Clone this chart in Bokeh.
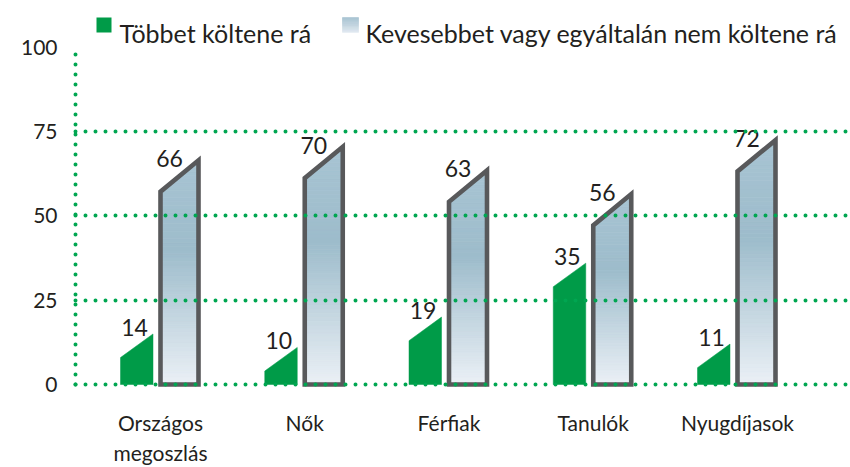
import numpy as np
from bokeh.plotting import figure
from bokeh.models import Range1d, FixedTicker
from bokeh.core.properties import value
from bokeh.embed import file_html
from bokeh.resources import INLINE

# ---------------- data ----------------
categories = ["Országos\nmegoszlás", "Nők", "Férfiak", "Tanulók", "Nyugdíjasok"]
more_spend = [14, 10, 19, 35, 11]          # Többet költene rá
less_spend = [66, 70, 63, 56, 72]          # Kevesebbet vagy egyáltalán nem költene rá
y_ticks = [0, 25, 50, 75, 100]
grid_ticks = [0, 25, 50, 75]
legend_labels = ["Többet költene rá", "Kevesebbet vagy egyáltalán nem költene rá"]

# ---------------- layout / style ----------------
W, H = 850, 467
FL, FR, FT, FB = 75, 850, 5, 392
GRID_END_PX = 832
PX_PER_CAT = 144.25
PX_PER_UNIT = 3.38
ZERO_PX = 385.0
FIRST_CAT_PX = 160.0

GREEN = "#009b48"
GRID_GREEN = "#00a651"
OUTLINE = "#58595b"
TEXT = "#231f20"
FONT = "Lato"

x_start = (FL - FIRST_CAT_PX) / PX_PER_CAT
x_end = (FR - FIRST_CAT_PX) / PX_PER_CAT
y_end = (ZERO_PX - FT) / PX_PER_UNIT
y_start = (ZERO_PX - FB) / PX_PER_UNIT


def sx(px):
    return (px - FIRST_CAT_PX) / PX_PER_CAT


def sy(py):
    return (ZERO_PX - py) / PX_PER_UNIT


def dx(px):
    return px / PX_PER_CAT


# bar geometry (offsets from category centre, in px)
G_L, G_R = -40.0, -7.5
B_L, B_R = 0.0, 38.0
G_SLANT, B_SLANT = 7.0, 9.3
G_LIFT, B_LIFT = 1.0, 0.5

BAR_STOPS = [(0.0, "#ebf0f6"), (0.6, "#9dbccb"), (1.0, "#a8c4d3")]
LEG_STOPS = [(0.0, "#e3eaf1"), (1.0, "#a3c0cf")]


def hex2rgb(h):
    h = h.lstrip("#")
    return tuple(int(h[i:i + 2], 16) for i in (0, 2, 4))


def grad_color(stops, f):
    for (f0, c0), (f1, c1) in zip(stops[:-1], stops[1:]):
        if f <= f1:
            t = (f - f0) / (f1 - f0) if f1 > f0 else 0.0
            a, b = hex2rgb(c0), hex2rgb(c1)
            return "#%02x%02x%02x" % tuple(int(round(a[k] + (b[k] - a[k]) * t)) for k in range(3))
    return stops[-1][1]


def clip_band(poly, y0, y1):
    def clip_half(pts, keep, yc):
        out = []
        n = len(pts)
        for k in range(n):
            P, Q = pts[k], pts[(k + 1) % n]
            pin, qin = keep(P), keep(Q)
            if pin:
                out.append(P)
            if pin != qin:
                t = (yc - P[1]) / (Q[1] - P[1])
                out.append((P[0] + t * (Q[0] - P[0]), yc))
        return out
    pts = clip_half(poly, lambda p: p[1] >= y0 - 1e-9, y0)
    if len(pts) < 3:
        return []
    pts = clip_half(pts, lambda p: p[1] <= y1 + 1e-9, y1)
    return pts


def gradient_bands(poly, stops, n=60):
    ys_all = [p[1] for p in poly]
    lo, hi = min(ys_all), max(ys_all)
    xs, ys, cols = [], [], []
    for j in range(n):
        y0 = lo + (hi - lo) * j / n
        y1 = lo + (hi - lo) * (j + 1) / n
        pts = clip_band(poly, y0, y1)
        if len(pts) < 3:
            continue
        xs.append([p[0] for p in pts])
        ys.append([p[1] for p in pts])
        cols.append(grad_color(stops, ((y0 + y1) / 2 - lo) / (hi - lo)))
    return xs, ys, cols


p = figure(width=W, height=H, output_backend="svg", toolbar_location=None,
           x_range=Range1d(x_start, x_end), y_range=Range1d(y_start, y_end),
           min_border_left=FL, min_border_right=W - FR,
           min_border_top=FT, min_border_bottom=H - FB)
p.outline_line_color = None
p.background_fill_color = "white"
p.border_fill_color = "white"

# green bars
g_xs, g_ys = [], []
for i, v in enumerate(more_spend):
    L, R = i + dx(G_L), i + dx(G_R)
    top_r = v + G_LIFT
    top_l = top_r - G_SLANT
    g_xs.append([L, R, R, L])
    g_ys.append([0, 0, top_r, top_l])
p.patches(g_xs, g_ys, fill_color=GREEN, line_color=GREEN, line_width=0.5)

# blue bars with gradient
b_xs, b_ys = [], []
gx, gy, gc = [], [], []
for i, v in enumerate(less_spend):
    L, R = i + dx(B_L), i + dx(B_R)
    top_r = v + B_LIFT
    top_l = top_r - B_SLANT
    poly = [(L, 0), (R, 0), (R, top_r), (L, top_l)]
    b_xs.append([q[0] for q in poly])
    b_ys.append([q[1] for q in poly])
    xs, ys, cs = gradient_bands(poly, BAR_STOPS)
    gx += xs
    gy += ys
    gc += cs
p.patches(gx, gy, fill_color=gc, line_color=gc, line_width=0.8)
p.patches(b_xs, b_ys, fill_color=None, line_color=OUTLINE, line_width=4.6, line_join="miter")

# value labels
p.text(x=[i + dx(-26) for i in range(len(more_spend))], y=[v + 3 for v in more_spend],
       text=[str(v) for v in more_spend], text_font=value(FONT), text_font_size="23px",
       text_align="center", text_baseline="alphabetic", text_color=TEXT)
p.text(x=[i + dx(9) for i in range(len(less_spend))], y=[v + 1 for v in less_spend],
       text=[str(v) for v in less_spend], text_font=value(FONT), text_font_size="23px",
       text_align="center", text_baseline="alphabetic", text_color=TEXT)

# legend (manual)
p.quad(left=[sx(96)], right=[sx(111)], bottom=[sy(32)], top=[sy(17)],
       fill_color=GREEN, line_color=None)
lsq = [(sx(342), sy(32)), (sx(358), sy(32)), (sx(358), sy(17)), (sx(342), sy(17))]
lx, ly, lc = gradient_bands(lsq, LEG_STOPS, n=16)
p.patches(lx, ly, fill_color=lc, line_color=lc, line_width=0.5)
p.text(x=[sx(119), sx(365)], y=[sy(33), sy(33)], text=legend_labels,
       text_font=value(FONT), text_font_size="25px", text_align="left",
       text_baseline="alphabetic", text_color=TEXT)

# axes
p.yaxis.ticker = FixedTicker(ticks=y_ticks)
p.yaxis.bounds = (0, 100)
p.yaxis.axis_line_color = GRID_GREEN
p.yaxis.axis_line_width = 4
p.yaxis.axis_line_dash = "0 10"
p.yaxis.axis_line_cap = "round"
p.yaxis.major_tick_line_color = None
p.yaxis.minor_tick_line_color = None
p.yaxis.major_label_standoff = 12
p.yaxis.major_label_text_font = FONT
p.yaxis.major_label_text_font_size = "21px"
p.yaxis.major_label_text_color = TEXT

p.xaxis.ticker = FixedTicker(ticks=list(range(len(categories))))
p.xaxis.major_label_overrides = {i: c for i, c in enumerate(categories)}
p.xaxis.axis_line_color = None
p.xaxis.major_tick_line_color = None
p.xaxis.minor_tick_line_color = None
p.xaxis.major_label_standoff = 12
p.xaxis.major_label_text_font = FONT
p.xaxis.major_label_text_font_size = "21px"
p.xaxis.major_label_text_color = TEXT

p.xgrid.visible = False
p.ygrid.ticker = FixedTicker(ticks=grid_ticks)
p.ygrid.bounds = (x_start, sx(GRID_END_PX))
p.ygrid.grid_line_color = GRID_GREEN
p.ygrid.grid_line_width = 4
p.ygrid.grid_line_dash = "0 10"
p.ygrid.grid_line_cap = "round"
p.ygrid.level = "annotation"

open("out.html", "w").write(file_html(p, INLINE))
